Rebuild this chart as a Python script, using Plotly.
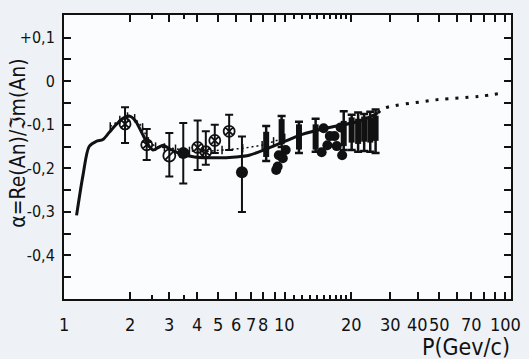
import math
import plotly.graph_objects as go

# ---- data ----
curve_p = [1.14, 1.22, 1.30, 1.40, 1.50, 1.60, 1.72, 1.85, 1.97, 2.10, 2.25, 2.40, 2.53, 2.68,
           2.81, 3.00, 3.34, 3.9, 4.9, 6.0, 6.9, 8.3, 9.8, 12.0, 15.4, 21.7, 26.4]
curve_a = [-0.308, -0.215, -0.150, -0.138, -0.134, -0.118, -0.100, -0.085, -0.080, -0.090,
           -0.118, -0.145, -0.158, -0.152, -0.147, -0.155, -0.166, -0.174, -0.176, -0.174,
           -0.170, -0.155, -0.140, -0.122, -0.108, -0.092, -0.073]

ext_p = [26.4, 28.3, 43.4, 50.0, 75.2, 97.2]
ext_a = [-0.073, -0.062, -0.046, -0.042, -0.035, -0.027]

comb_p = [1.62, 1.79, 1.94, 2.09, 2.27, 2.41, 2.6, 2.85, 3.2, 3.7, 4.28, 5.2, 6.45, 7.9, 8.9, 10.0]
comb_a = [-0.104, -0.089, -0.081, -0.085, -0.106, -0.138, -0.150, -0.152, -0.155, -0.160,
          -0.162, -0.158, -0.154, -0.147, -0.138, -0.130]

open_p = [1.89, 2.37, 4.03, 4.39, 4.82, 5.6]
open_a = [-0.098, -0.146, -0.152, -0.162, -0.136, -0.115]
open_hi = [-0.060, -0.110, -0.090, -0.115, -0.100, -0.077]
open_lo = [-0.142, -0.181, -0.204, -0.192, -0.165, -0.158]

slash_p = [3.0]
slash_a = [-0.171]
slash_hi = [-0.119]
slash_lo = [-0.219]

fill_p = [3.47, 6.4]
fill_a = [-0.165, -0.209]
fill_hi = [-0.096, -0.127]
fill_lo = [-0.235, -0.300]

dense_p = [8.24, 9.68, 11.6, 13.8, 18.5, 20.1, 21.5, 22.9, 24.4, 25.8]
dense_a = [-0.145, -0.116, -0.128, -0.128, -0.120, -0.112, -0.115, -0.110, -0.112, -0.108]
dense_hi = [-0.103, -0.080, -0.093, -0.086, -0.069, -0.077, -0.072, -0.075, -0.070, -0.065]
dense_lo = [-0.183, -0.151, -0.165, -0.162, -0.158, -0.158, -0.162, -0.160, -0.162, -0.165]

smear_p = [9.15, 9.29, 9.4, 9.8, 10.1, 14.7, 15.6, 16.8, 17.9, 15.0, 16.0, 17.2, 18.2]
smear_a = [-0.204, -0.196, -0.170, -0.177, -0.158, -0.163, -0.147, -0.126, -0.106,
           -0.108, -0.126, -0.149, -0.170]

x_tickvals = [1, 2, 3, 4, 5, 6, 7, 8, 9, 10, 20, 30, 40, 50, 60, 70, 80, 90, 100]
x_labelvals = [1, 2, 3, 4, 5, 6, 7, 8, 10, 20, 30, 40, 50, 70, 100]
x_labeltext = ["1", "2", "3", "4", "5", "6", "7", "8", "10", "20", "30", "40", "50", "70", "100"]
x_minor = [2.5, 3.5, 11, 12, 13, 14, 15, 16, 17, 18, 19]
y_tickvals = [0.1, 0.0, -0.1, -0.2, -0.3, -0.4]
y_ticktext = ["+0,1", "0", "-0,1", "-0,2", "-0,3", "-0,4"]
y_minor = [0.05, -0.05, -0.15, -0.25, -0.35, -0.45]

FONT = "DejaVu Sans Condensed, Liberation Sans Narrow, Roboto, sans-serif"
INK = "#111111"


def errs(a, hi, lo):
    return [h - v for v, h in zip(a, hi)], [v - l for v, l in zip(a, lo)]


fig = go.Figure()

# comb (ticked dotted) curve
fig.add_trace(go.Scatter(x=comb_p, y=comb_a, mode="lines+markers",
                         line=dict(color=INK, width=1.5, dash="2px,3px"),
                         marker=dict(symbol="line-ns-open", size=6,
                                     line=dict(color=INK, width=1.5)),
                         showlegend=False, hoverinfo="skip"))

# solid curve
fig.add_trace(go.Scatter(x=curve_p, y=curve_a, mode="lines",
                         line=dict(color=INK, width=3, shape="spline", smoothing=0.8),
                         showlegend=False))
# dotted extension
fig.add_trace(go.Scatter(x=ext_p, y=ext_a, mode="lines",
                         line=dict(color=INK, width=3, dash="3px,7px", shape="spline"),
                         showlegend=False))

# open crossed circles
up, dn = errs(open_a, open_hi, open_lo)
fig.add_trace(go.Scatter(x=open_p, y=open_a, mode="markers",
                         marker=dict(symbol="circle-x-open", size=11, color=INK,
                                     line=dict(color=INK, width=1.8)),
                         error_y=dict(type="data", symmetric=False, array=up, arrayminus=dn,
                                      color=INK, thickness=2, width=4),
                         showlegend=False))

# slashed circle
up, dn = errs(slash_a, slash_hi, slash_lo)
fig.add_trace(go.Scatter(x=slash_p, y=slash_a, mode="markers",
                         marker=dict(symbol="circle-open", size=12, color=INK,
                                     line=dict(color=INK, width=1.8)),
                         error_y=dict(type="data", symmetric=False, array=up, arrayminus=dn,
                                      color=INK, thickness=2, width=4),
                         showlegend=False))
fig.add_trace(go.Scatter(x=slash_p, y=slash_a, mode="markers",
                         marker=dict(symbol="line-ne-open", size=9, color=INK,
                                     line=dict(color=INK, width=1.8)),
                         showlegend=False, hoverinfo="skip"))

# filled circles
up, dn = errs(fill_a, fill_hi, fill_lo)
fig.add_trace(go.Scatter(x=fill_p, y=fill_a, mode="markers",
                         marker=dict(symbol="circle", size=12, color=INK),
                         error_y=dict(type="data", symmetric=False, array=up, arrayminus=dn,
                                      color=INK, thickness=2, width=4),
                         showlegend=False))

# dense thick bars
up, dn = errs(dense_a, dense_hi, dense_lo)
fig.add_trace(go.Scatter(x=dense_p, y=dense_a, mode="markers",
                         marker=dict(symbol="line-ns-open", size=18, color=INK,
                                     line=dict(color=INK, width=6)),
                         error_y=dict(type="data", symmetric=False, array=up, arrayminus=dn,
                                      color=INK, thickness=2.5, width=4),
                         showlegend=False))

# smeared points
fig.add_trace(go.Scatter(x=smear_p, y=smear_a, mode="markers",
                         marker=dict(symbol="circle", size=10, color=INK),
                         showlegend=False))

annotations = [
    dict(text=t, xref="x", yref="paper", x=math.log10(v), y=-0.045,
         showarrow=False, font=dict(size=18, family=FONT, color=INK),
         xanchor="center", yanchor="top")
    for v, t in zip(x_labelvals, x_labeltext)
]
annotations += [
    dict(text="P(Gev/c)", xref="paper", yref="paper", x=0.9, y=-0.17,
         showarrow=False, font=dict(size=23, family=FONT, color=INK),
         xanchor="center", yanchor="middle"),
    dict(text="α=Re(An)/ℑm(An)", xref="paper", yref="paper", x=-0.103, y=0.55,
         textangle=-90, showarrow=False, font=dict(size=21, family=FONT, color=INK),
         xanchor="center", yanchor="middle"),
]

fig.update_layout(
    width=529, height=359,
    margin=dict(l=64, r=18, t=15, b=60),
    paper_bgcolor="#eef2f7",
    plot_bgcolor="#fbfcfe",
    font=dict(family=FONT, color=INK),
    xaxis=dict(type="log", range=[0, 2.025], automargin=False,
               tickmode="array", tickvals=x_tickvals, showticklabels=False,
               ticks="inside", ticklen=7, tickwidth=1.5, tickcolor=INK,
               minor=dict(tickvals=x_minor, ticks="inside", ticklen=4, tickwidth=1.5,
                          tickcolor=INK),
               showline=True, linecolor=INK, linewidth=2, mirror="ticks",
               showgrid=False, zeroline=False),
    yaxis=dict(range=[-0.5, 0.152], automargin=False,
               tickmode="array", tickvals=y_tickvals, ticktext=y_ticktext,
               ticks="inside", ticklen=7, tickwidth=1.5, tickcolor=INK,
               minor=dict(tickvals=y_minor, ticks="inside", ticklen=7, tickwidth=1.5,
                          tickcolor=INK),
               showline=True, linecolor=INK, linewidth=2, mirror="ticks",
               showgrid=False, zeroline=False,
               tickfont=dict(size=16, family=FONT, color=INK), ticklabelstandoff=4),
    annotations=annotations,
)

fig.write_html("out.html")
